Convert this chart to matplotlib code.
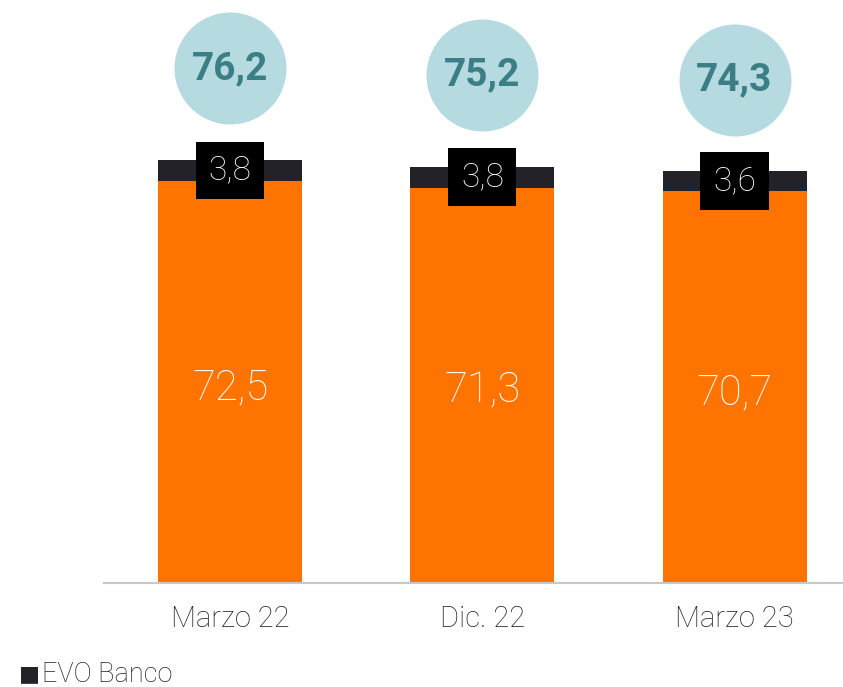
import matplotlib
matplotlib.use('Agg')
import matplotlib.pyplot as plt

periodos = ['Marzo 22', 'Dic. 22', 'Marzo 23']
base = [72.5, 71.3, 70.7]
evo = [3.8, 3.8, 3.6]
totales = [76.2, 75.2, 74.3]

naranja = '#FF7300'
oscuro = '#222228'
circulo = '#B5DAE0'
teal = '#3B7E86'


def fmt(v):
    return f'{v:.1f}'.replace('.', ',')


plt.rcParams['font.family'] = ['Roboto', 'DejaVu Sans']

fig = plt.figure(figsize=(8.43, 6.87), dpi=100)
ax = fig.add_axes([104 / 843, 104 / 687, 1 - 104 / 843, 583 / 687])

x = range(len(periodos))
ax.bar(x, base, width=0.571, color=naranja, zorder=2)
ax.bar(x, evo, bottom=base, width=0.571, color=oscuro, zorder=2)

for i in x:
    ax.text(i, base[i] / 2 - 1, fmt(base[i]), ha='center', va='center',
            color='white', fontsize=30, fontweight='light', zorder=4)
    ax.text(i, base[i] + evo[i] / 2, fmt(evo[i]), ha='center', va='center',
            color='white', fontsize=24, fontweight='light', zorder=4,
            bbox=dict(boxstyle='square,pad=0.38', fc='black', ec='none'))
    yc = base[i] + evo[i] + 16.5
    ax.scatter(i, yc, s=6500, color=circulo, zorder=3, linewidths=0)
    ax.text(i, yc, fmt(totales[i]), ha='center', va='center',
            color=teal, fontsize=28, fontweight='bold', zorder=4)

ax.set_xlim(-0.5, 2.43)
ax.set_ylim(0, 583 / 5.545)
ax.set_xticks(list(x))
ax.set_xticklabels(periodos, fontsize=21, color='#222222', fontweight='light')
ax.tick_params(axis='x', length=0, pad=16)
ax.set_yticks([])
for s in ['top', 'right', 'left']:
    ax.spines[s].set_visible(False)
ax.spines['bottom'].set_color('#C8C8C8')
ax.spines['bottom'].set_linewidth(1.5)
ax.spines['bottom'].set_zorder(5)

fig.text(19 / 843, 1 - 674 / 687, '\u25A0', color=oscuro, fontsize=16,
         va='center', ha='left', family='DejaVu Sans')
fig.text(42 / 843, 1 - 675 / 687, 'EVO Banco', color='#222222', fontsize=19.5,
         va='center', ha='left', fontweight='light')

fig.savefig('out.png', dpi=100)
